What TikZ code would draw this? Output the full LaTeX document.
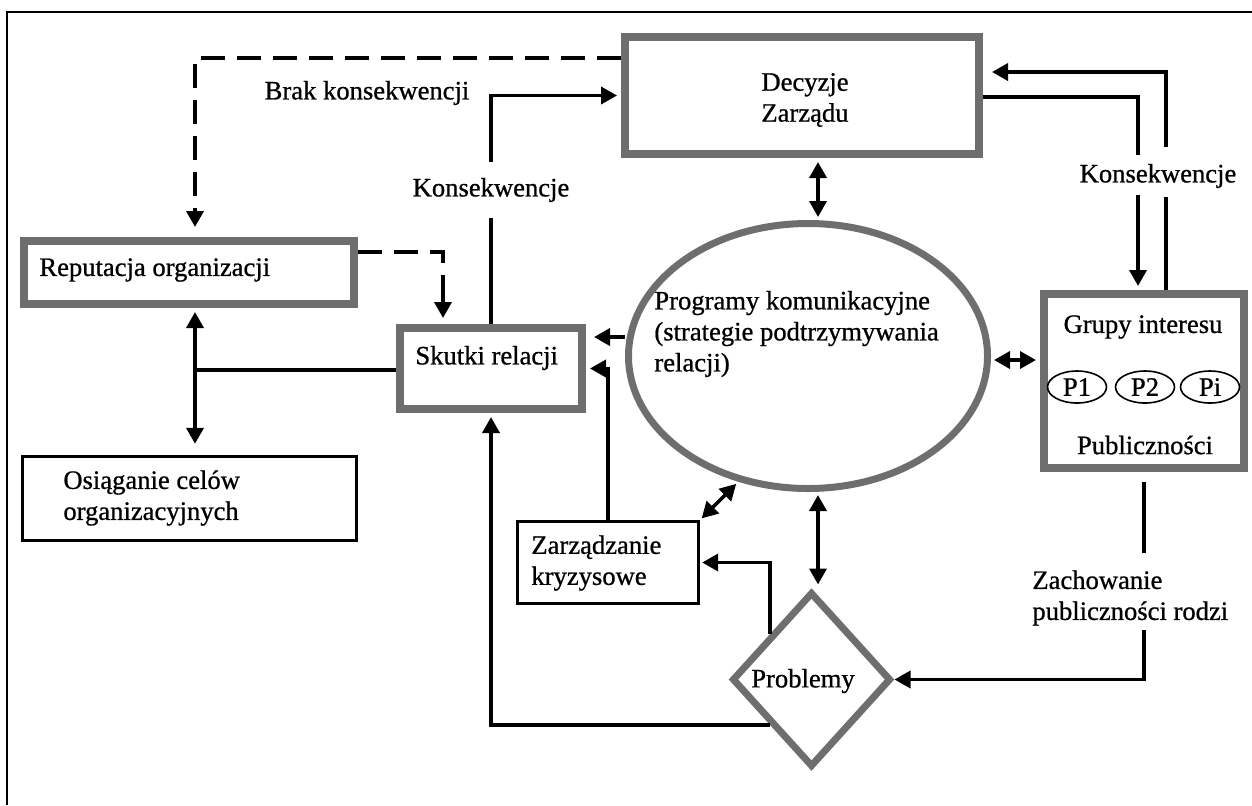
\documentclass[tikz,border=0pt]{standalone}
\usepackage{fontspec}
\setmainfont{Liberation Serif}[BoldFont=Liberation Serif, BoldFeatures={FakeBold=0.8}]
\usetikzlibrary{arrows.meta,shapes.geometric}
\definecolor{bordergray}{RGB}{110,110,110}
\begin{document}
\begin{tikzpicture}[x=0.5pt,y=-0.5pt,
  every node/.style={font=\fontsize{13.3}{15.5}\selectfont\bfseries, inner sep=0pt},
  gbox/.style={draw=bordergray, line width=4pt, rectangle},
  bbox/.style={draw=black, line width=1.7pt, rectangle},
  conn/.style={line width=1.8pt},
  arr/.style={conn,-{Triangle[length=8pt,width=8.5pt]}},
  darr/.style={conn,{Triangle[length=8pt,width=8.5pt]}-{Triangle[length=8pt,width=8.5pt]}},
  dsh/.style={conn,dash pattern=on 12pt off 6pt},
  lbl/.style={align=left}
]
\useasboundingbox (0,0) rectangle (1252,805);
% frame
\draw[line width=1pt] (7,805) -- (7,12) -- (1252,12);

% boxes
\node[gbox, minimum width=177pt, minimum height=58.5pt] (dec) at (802,95.5) {};
\node[align=center] (dect) at (805,100) {Decyzje\\Zarządu};

\node[gbox, minimum width=165pt, minimum height=31.5pt] (rep) at (189,272.5) {};
\node[anchor=west] (rept) at (39,270) {Reputacja organizacji};

\node[gbox, minimum width=91pt, minimum height=40.5pt] (sk) at (491,368.5) {};
\node[anchor=west] (skt) at (415,358) {Skutki relacji};

\node[gbox, minimum width=100pt, minimum height=87pt] (grp) at (1144,381) {};
\node (grpt) at (1143,327) {Grupy interesu};
\node[draw, ellipse, line width=0.8pt, minimum width=29.5pt, minimum height=16pt] (p1) at (1077,387) {P1};
\node[draw, ellipse, line width=0.8pt, minimum width=29.5pt, minimum height=16pt] (p2) at (1145,387) {P2};
\node[draw, ellipse, line width=0.8pt, minimum width=29.5pt, minimum height=16pt] (pi) at (1210,387) {Pi};
\node (pub) at (1145,445) {Publiczności};

\node[bbox, minimum width=167pt, minimum height=42pt] (osi) at (189.5,498.5) {};
\node[lbl, anchor=west] (osit) at (63,498) {Osiąganie celów\\organizacyjnych};

\node[bbox, minimum width=90.5pt, minimum height=41pt] (zar) at (608,562.5) {};
\node[lbl, anchor=west] (zart) at (531,563) {Zarządzanie\\kryzysowe};

\node[draw=bordergray, line width=3.5pt, ellipse, minimum width=179.5pt, minimum height=132.5pt] (ell) at (808,356) {};
\node[lbl, anchor=west] (ellt) at (654,334) {Programy komunikacyjne\\(strategie podtrzymywania\\relacji)};

\node[draw=bordergray, line width=3.5pt, diamond, minimum width=79.5pt, minimum height=87.5pt] (prob) at (811.5,679.5) {};
\node (probt) at (803,681) {Problemy};

% labels
\node (brak) at (367,93) {Brak konsekwencji};
\node[minimum height=27.5pt] (kl) at (491,190) {Konsekwencje};
\node[minimum height=23pt] (kr) at (1158,176) {Konsekwencje};
\node[lbl, anchor=west, minimum height=30pt] (zl) at (1032,598) {Zachowanie\\publiczności rodzi};

% coordinates
\coordinate (d1) at (195,58);
\coordinate (d2) at (443,252);
\coordinate (v1) at (195,370);
\coordinate (h1) at (700,337);
\coordinate (h3) at (1000,360);
\coordinate (c1) at (818,300);
\coordinate (g1) at (1144,553);
\coordinate (g2) at (1144,630);
\coordinate (r1) at (1138,97);
\coordinate (r2) at (1138,155);
\coordinate (r3) at (1138,195);
\coordinate (s1) at (1166,72);
\coordinate (s2) at (1166,197);
\coordinate (s3) at (1166,147);

% dashed connectors
\draw[dsh] (d1 -| dec.west) -- (d1) -- (195,215);
\draw[arr, shorten >=5pt] (195,210) -- (d1 |- rep.north);
\draw[dsh] (d2 -| rep.east) -- (d2) -- (443,300);
\draw[arr, shorten >=3pt] (443,296) -- (d2 |- sk.north);

% left Konsekwencje
\draw[conn] (sk.north) -- (kl.south);
\draw[arr, shorten >=2pt] (kl.north) |- (dec.west);

% Reputacja <-> Osiaganie, line to Skutki
\draw[darr, shorten <=2pt, shorten >=5.5pt] (v1 |- rep.south) -- (v1 |- osi.north);
\draw[conn] (v1) -- (v1 -| sk.west);

% ellipse -> Skutki
\draw[arr, shorten >=4pt] (h1 -| ell.west) -- (h1 -| sk.east);
% Zarzadzanie -> Skutki
\draw[arr, shorten >=2pt] (zar.north) |- (sk.east);
% ellipse <-> Zarzadzanie
\draw[darr, shorten <=1.5pt, shorten >=1pt] (ell.-119) -- (zar.north east);
% Decyzje <-> ellipse
\draw[darr, shorten <=2pt, shorten >=1.5pt] (dec.south -| c1) -- (ell.north -| c1);
% ellipse <-> Grupy
\draw[darr, shorten <=1.5pt, shorten >=2pt] (h3 -| ell.east) -- (h3 -| grp.west);
% ellipse <-> Problemy
\draw[darr, shorten <=1.5pt, shorten >=2pt] (ell.south -| c1) -- (prob.north -| c1);
% Problemy -> Zarzadzanie
\draw[arr, shorten >=1pt] (prob.north west) |- (zar.east);
% Problemy -> Skutki
\draw[arr, shorten >=2pt] (prob.south west) -| (sk.south);
% Grupy -> Problemy
\draw[conn, shorten <=5pt] (grp.south) -- (g1);
\draw[arr] (g2) |- (prob.east);
% Decyzje -> Grupy
\draw[conn] (r1 -| dec.east) -- (r1) -- (r2);
\draw[arr, shorten >=2pt] (r3) -- (r3 |- grp.north);
% Grupy -> Decyzje
\draw[conn] (s2 |- grp.north) -- (s2);
\draw[arr, shorten >=4.5pt] (s3) -- (s1) -- (s1 -| dec.east);
\end{tikzpicture}
\end{document}
